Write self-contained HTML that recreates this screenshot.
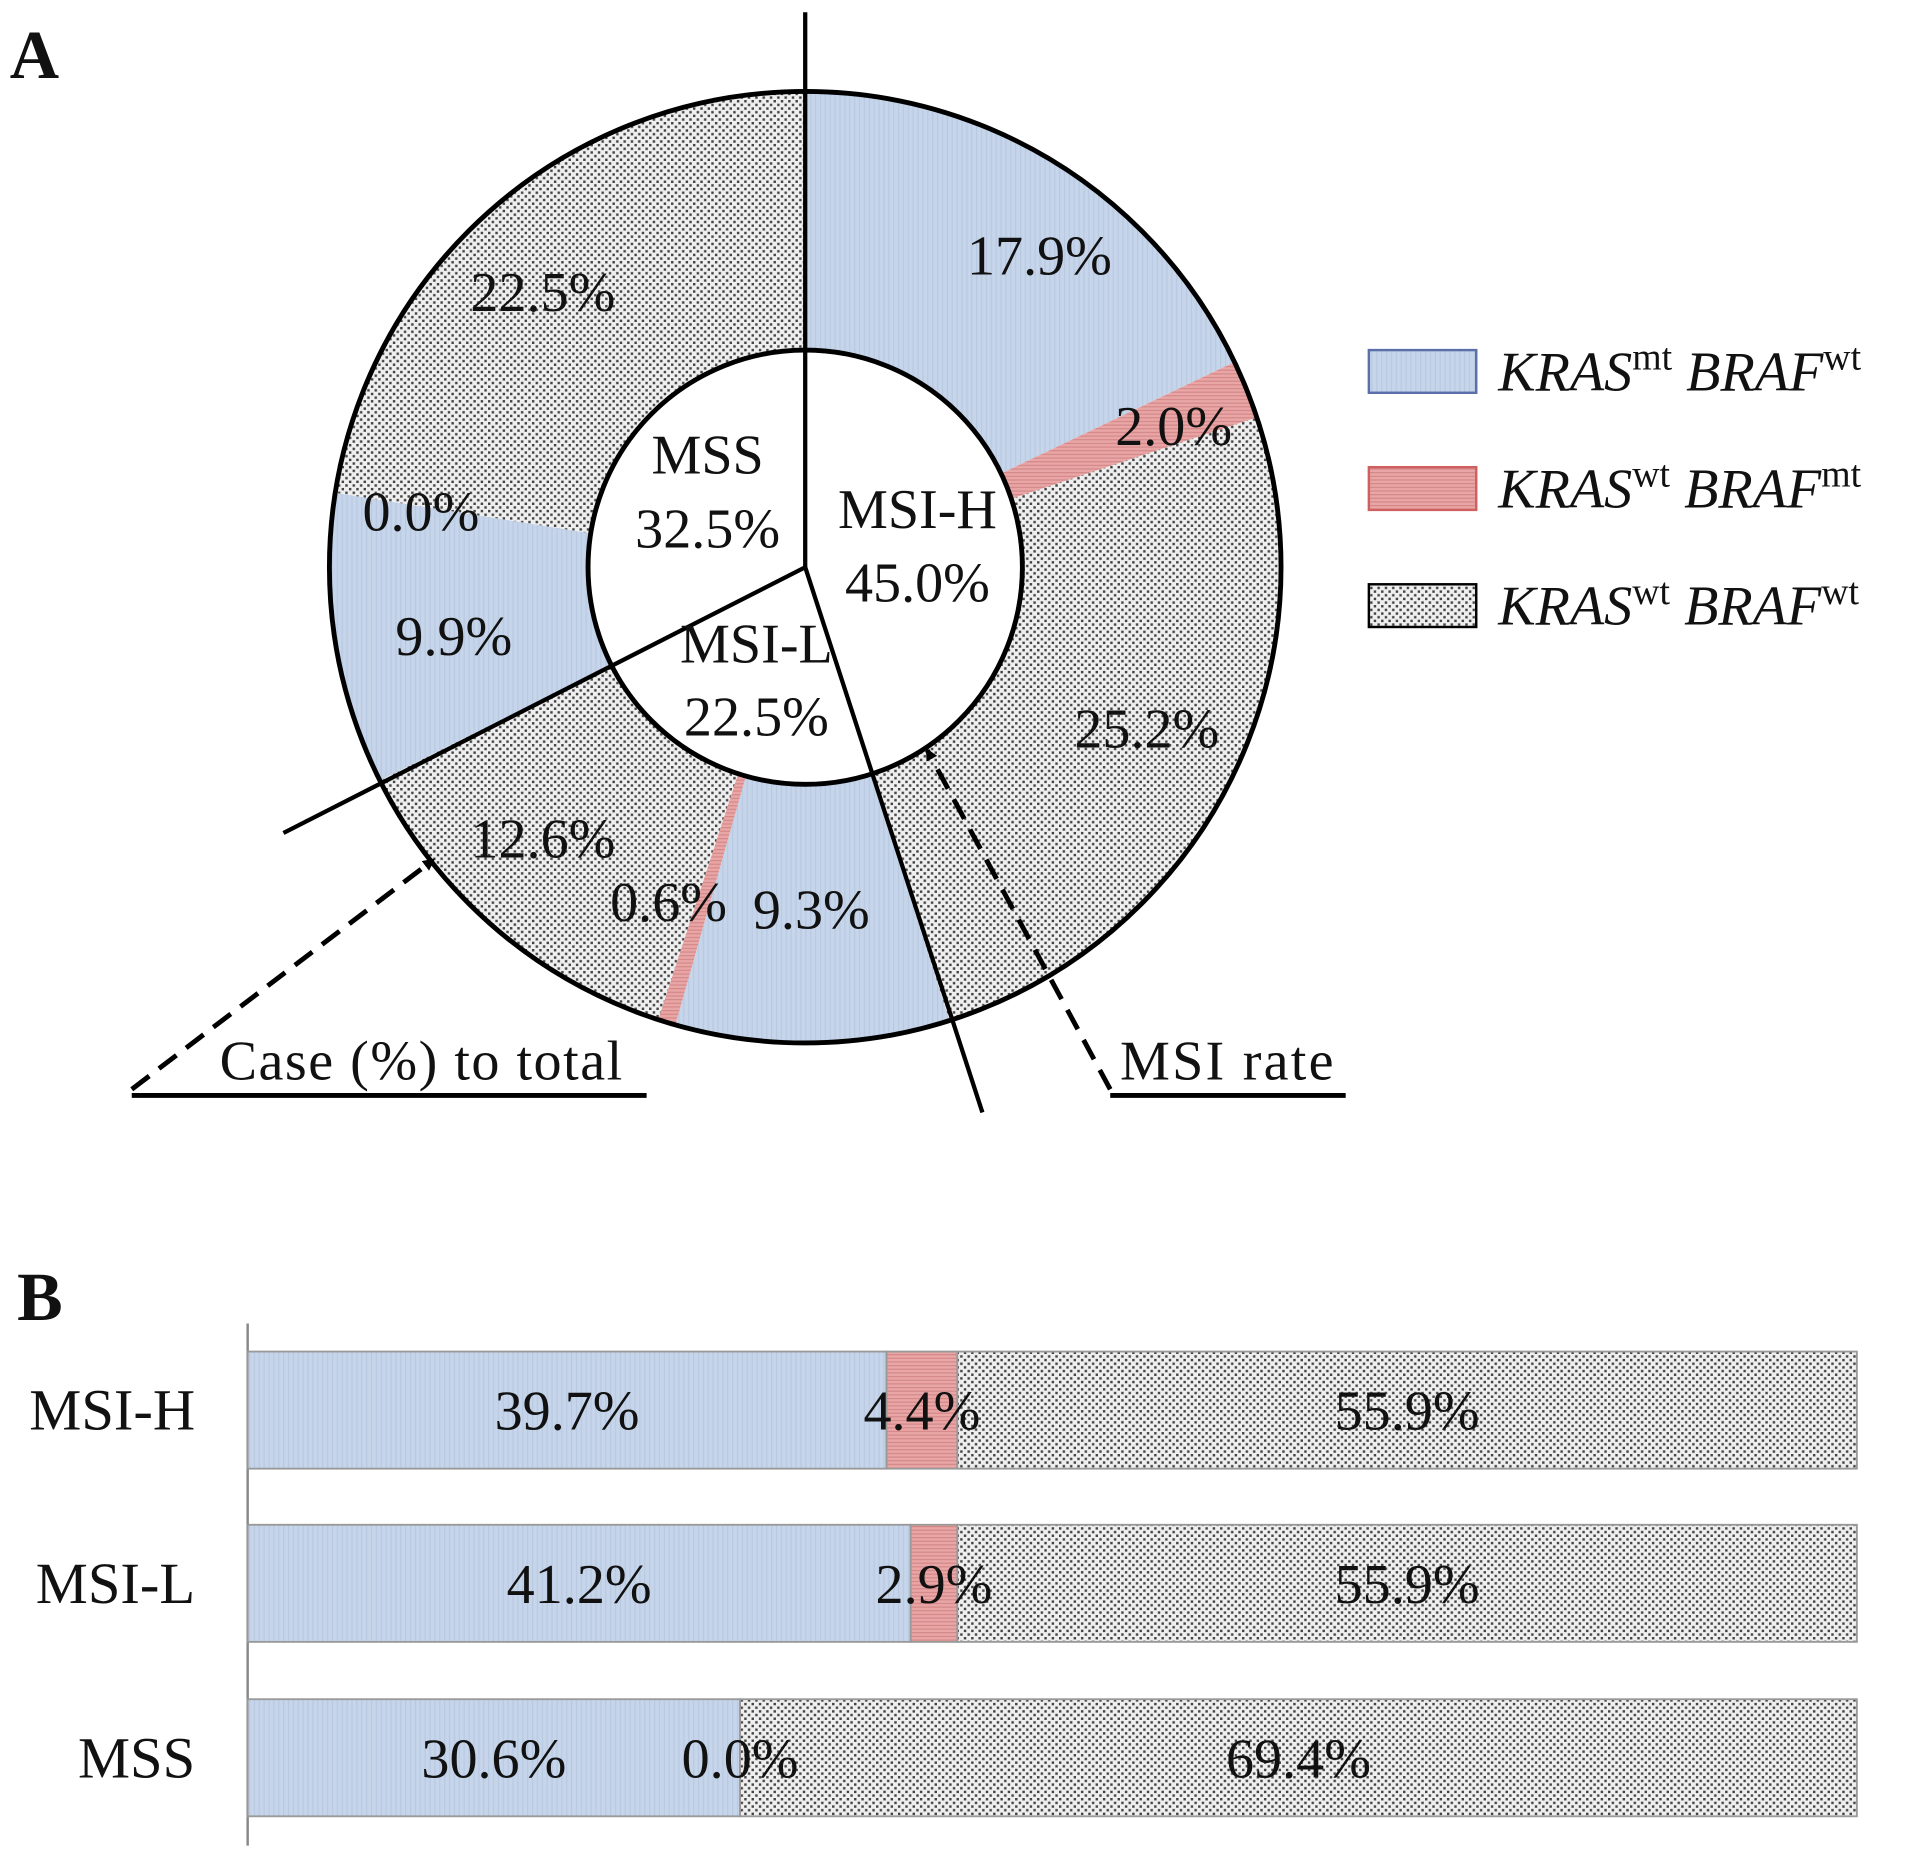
<!DOCTYPE html>
<html><head><meta charset="utf-8"><style>
html,body{margin:0;padding:0;background:#fff;}
svg{display:block;}
text{font-family:"Liberation Serif",serif;fill:#111;}
</style></head><body>
<svg id="fig" width="1913" height="1859" viewBox="0 0 1568 1524" preserveAspectRatio="none" xmlns="http://www.w3.org/2000/svg">
<defs>
<pattern id="pBlue" width="4" height="4" patternUnits="userSpaceOnUse"><rect width="4" height="4" fill="#c6d5ea"/><rect x="0" width="1" height="4" fill="#b8c9e2"/></pattern>
<pattern id="pRed" width="4" height="3" patternUnits="userSpaceOnUse"><rect width="4" height="3" fill="#e9a6a6"/><rect y="0" width="4" height="1" fill="#d48888"/></pattern>
<pattern id="pDot" width="6" height="6" patternUnits="userSpaceOnUse"><rect width="6" height="6" fill="#efefef"/><rect x="1" y="1" width="2" height="2" fill="#444"/><rect x="4" y="4" width="2" height="2" fill="#444"/></pattern>
<marker id="arr" markerWidth="10" markerHeight="10" refX="8" refY="5" orient="auto" markerUnits="userSpaceOnUse"><path d="M0,0 L10,5 L0,10 z" fill="#000"/></marker>
</defs>
<text x="8" y="64" font-size="56" font-weight="bold">A</text>
<g id="donut"></g>
<g id="legend"></g>
<text x="14" y="1082" font-size="56" font-weight="bold">B</text>
<g id="bars"></g>
</svg>
<script>
const NS="http://www.w3.org/2000/svg";
// Donut data
const groups=["MSI-H","MSI-L","MSS"];
const groupRates=[45.0,22.5,32.5];
const outerValues=[17.9,2.0,25.2,9.3,0.6,12.6,9.9,0.0,22.5];
const outerTypes=[0,1,2,0,1,2,0,1,2];
// Bar data
const barCats=["MSI-H","MSI-L","MSS"];
const barBlue=[39.7,41.2,30.6];
const barRed=[4.4,2.9,0.0];
const barDot=[55.9,55.9,69.4];
const fills=["url(#pBlue)","url(#pRed)","url(#pDot)"];

function mk(tag,attrs,parent){const e=document.createElementNS(NS,tag);for(const k in attrs)e.setAttribute(k,attrs[k]);parent.appendChild(e);return e;}
const cx=660,cy=465,R=390,r=178;
function pt(pct,rad){const a=pct/100*2*Math.PI;return [cx+rad*Math.sin(a),cy-rad*Math.cos(a)];}
const donut=document.getElementById('donut');
const segLayer=mk('g',{},donut);
const lineLayer=mk('g',{},donut);
const labelLayer=mk('g',{},donut);
let acc=0;
const outerLabelPos=[[852,210],[962,350],[940,598],[665,746],[548,740],[445,688],[372,522],[345,420],[445,240]];
outerValues.forEach((v,i)=>{
  const s=acc,e=acc+v;acc=e;
  if(v>0){
    const [x1,y1]=pt(s,R),[x2,y2]=pt(e,R),[x3,y3]=pt(e,r),[x4,y4]=pt(s,r);
    const lg=v>50?1:0;
    const p=mk('path',{d:`M${x1},${y1} A${R},${R} 0 ${lg} 1 ${x2},${y2} L${x3},${y3} A${r},${r} 0 ${lg} 0 ${x4},${y4} Z`,fill:fills[outerTypes[i]]},segLayer);
    
    
  }
  const [lx,ly]=outerLabelPos[i];
  const t=mk('text',{x:lx,y:ly+15,'font-size':46,'text-anchor':'middle'},labelLayer);
  t.textContent=v.toFixed(1)+'%';
  
  
});
mk('circle',{cx:cx,cy:cy,r:R,fill:'none',stroke:'#000','stroke-width':4},lineLayer);
mk('circle',{cx:cx,cy:cy,r:r,fill:'#fff',stroke:'#000','stroke-width':4},lineLayer);
let g=0;
groupRates.forEach((v,i)=>{
  g+=v;
  const pct=g%100;
  const L=pct===0?455:(i===0?470:480);
  const [x,y]=pt(pct,L);
  const ln=mk('line',{x1:cx,y1:cy,x2:x,y2:y,stroke:'#000','stroke-width':3.5},lineLayer);
  
  
});
const innerLabels=[[752,418,478],[620,528,588],[580,373,434]];
groups.forEach((n,i)=>{
  const [x,y1,y2]=innerLabels[i];
  const t=mk('text',{x:x,y:y1+15,'font-size':46,'text-anchor':'middle'},labelLayer);t.textContent=n;
  
  
  const t2=mk('text',{x:x,y:y2+15,'font-size':46,'text-anchor':'middle'},labelLayer);t2.textContent=groupRates[i].toFixed(1)+'%';
  
  
});
const a1=mk('line',{x1:108,y1:893,x2:355,y2:705,stroke:'#000','stroke-width':4,'stroke-dasharray':'18,10','marker-end':'url(#arr)'},donut);

mk('line',{x1:108,y1:898,x2:530,y2:898,stroke:'#000','stroke-width':4},donut);
const c1=mk('text',{x:180,y:885,'font-size':46,textLength:330},donut);c1.textContent='Case (%) to total';

const a2=mk('line',{x1:910,y1:893,x2:760,y2:615,stroke:'#000','stroke-width':4,'stroke-dasharray':'18,10','marker-end':'url(#arr)'},donut);

mk('line',{x1:910,y1:898,x2:1103,y2:898,stroke:'#000','stroke-width':4},donut);
const c2=mk('text',{x:918,y:885,'font-size':46,textLength:175},donut);c2.textContent='MSI rate';

// legend
const legend=document.getElementById('legend');
const legSup=[["mt","wt"],["wt","mt"],["wt","wt"]];
const legStroke=["#5b6fa8","#d06060","#000"];
legSup.forEach((s,i)=>{
  const y=287+i*96;
  const rc=mk('rect',{x:1122,y:y,width:88,height:35,fill:fills[i],stroke:legStroke[i],'stroke-width':2},legend);
  
  const t=mk('text',{x:1228,y:y+33,'font-size':46},legend);
  
  t.innerHTML=`<tspan font-style="italic">KRAS</tspan><tspan font-size="31" dy="-17">${s[0]}</tspan><tspan dy="17"> </tspan><tspan font-style="italic">BRAF</tspan><tspan font-size="31" dy="-17">${s[1]}</tspan>`;
});
// bars
const bars=document.getElementById('bars');
const x0=203,W=1319;
function xs(v){return v/100*W;}
mk('line',{x1:x0,y1:1085,x2:x0,y2:1513,stroke:'#888','stroke-width':2},bars);
const barTop=[1108,1250,1393],bh=96;
const txtLayer=[];
barCats.forEach((c,i)=>{
  const y=barTop[i];
  const t=mk('text',{x:160,y:y+bh/2+16,'font-size':48,'text-anchor':'end'},bars);t.textContent=c;
  
  const vals=[barBlue[i],barRed[i],barDot[i]];
  let cum=0;
  vals.forEach((v,j)=>{
    const bx=x0+xs(cum);
    const rc=mk('rect',{x:bx,y:y,width:xs(v),height:bh,fill:fills[j],stroke:'#999','stroke-width':1.5},bars);
    
    cum+=v;
  });
  cum=0;
  vals.forEach((v,j)=>{
    const cxp=x0+xs(cum+v/2);
    const tx=mk('text',{x:cxp,y:y+bh/2+16,'font-size':46,'text-anchor':'middle'},bars);tx.textContent=v.toFixed(1)+'%';
    
    cum+=v;
  });
});
</script>
</body></html>
